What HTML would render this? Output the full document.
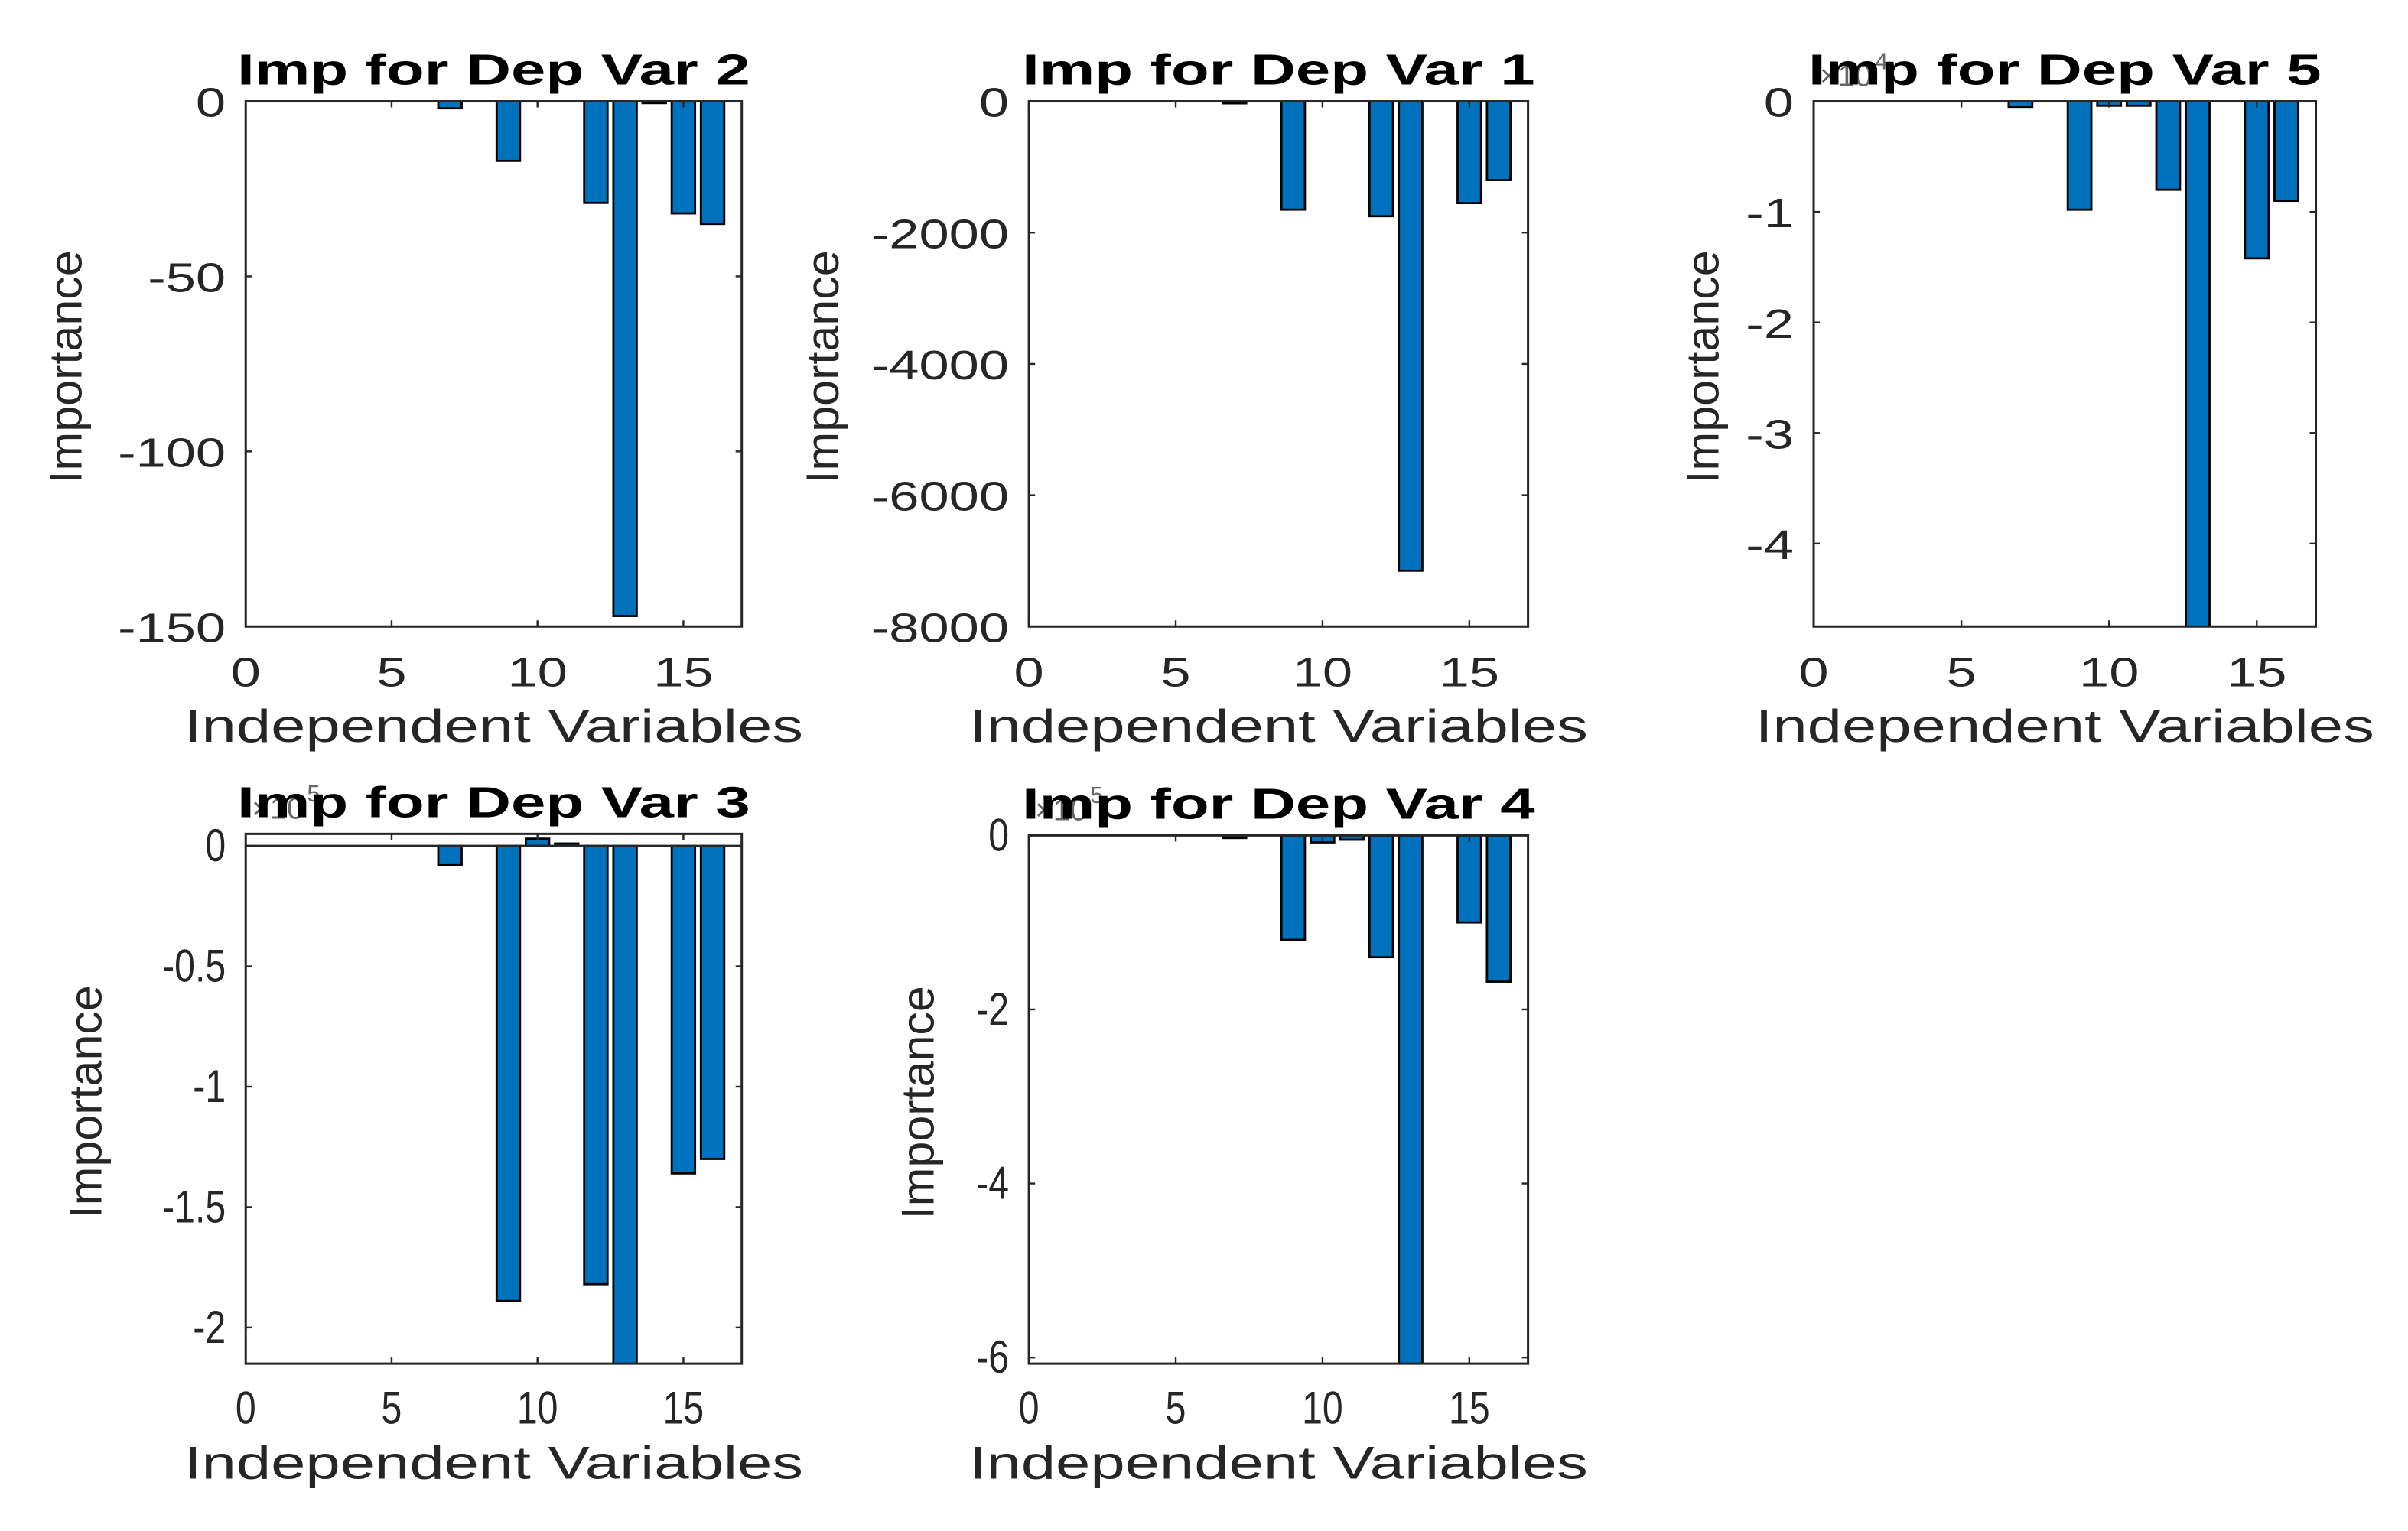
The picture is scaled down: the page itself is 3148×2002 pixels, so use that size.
<!DOCTYPE html>
<html><head><meta charset="utf-8">
<style>
html,body{margin:0;padding:0;background:#fff;}
svg{display:block;}
text{font-family:"Liberation Sans",sans-serif;}
</style></head>
<body>
<svg id="fig" width="3148" height="2002" viewBox="0 0 1568 997" preserveAspectRatio="none" xmlns="http://www.w3.org/2000/svg"></svg>
<script>
// ---- data ----
const xIndices = [7, 9, 10, 11, 12, 13, 14, 15, 16];
const var2Values = [-2, -17, 0, 0, -29, -147, -0.5, -32, -35];
const var1Values = [-30, -1650, 0, 0, -1750, -7150, 0, -1550, -1200];
const var5Values = [-0.05, -0.98, -0.04, -0.04, -0.8, -4.8, 0, -1.42, -0.9];
const var3Values = [-0.08, -1.89, 0.03, 0.01, -1.82, -2.2, 0, -1.36, -1.30];
const var4Values = [-0.03, -1.2, -0.08, -0.05, -1.4, -6.1, 0, -1.0, -1.68];
const xTicks = [0, 5, 10, 15];
const var2Ticks = [0, -50, -100, -150];
const var1Ticks = [0, -2000, -4000, -6000, -8000];
const var5Ticks = [0, -1, -2, -3, -4];
const var3Ticks = [0, -0.5, -1, -1.5, -2];
const var4Ticks = [0, -2, -4, -6];

const NS = "http://www.w3.org/2000/svg";
const fig = document.getElementById('fig');
function mk(tag, attrs, parent){
  const e = document.createElementNS(NS, tag);
  for (const k in attrs) e.setAttribute(k, attrs[k]);
  (parent||fig).appendChild(e);
  return e;
}
function stretch(el, f){
  const w = el.getComputedTextLength();
  el.setAttribute('textLength', w*f);
  el.setAttribute('lengthAdjust', 'spacingAndGlyphs');
}
function fitTo(el, w){
  el.setAttribute('textLength', w);
  el.setAttribute('lengthAdjust', 'spacingAndGlyphs');
}

const panels = [
  {key:'var2', title:'Imp for Dep Var 2', vals:var2Values, ticks:var2Ticks, ymin:-150, ymax:0, box:[160,66,483,408], exp:null, row:0, ylx:42},
  {key:'var1', title:'Imp for Dep Var 1', vals:var1Values, ticks:var1Ticks, ymin:-8000, ymax:0, box:[670,66,995,408], exp:null, row:0, ylx:535},
  {key:'var5', title:'Imp for Dep Var 5', vals:var5Values, ticks:var5Ticks, ymin:-4.75, ymax:0, box:[1181,66,1508,408], exp:'4', row:0, ylx:1108},
  {key:'var3', title:'Imp for Dep Var 3', vals:var3Values, ticks:var3Ticks, ymin:-2.15, ymax:0.05, box:[160,543,483,888], exp:'5', row:1, ylx:55},
  {key:'var4', title:'Imp for Dep Var 4', vals:var4Values, ticks:var4Ticks, ymin:-6.07, ymax:0, box:[670,544,995,888], exp:'5', row:1, ylx:597}
];

panels.forEach(p => {
  const [x0,y0,x1,y1] = p.box;
  const g = mk('g', {});
  
  
  const xs = v => x0 + (v/17)*(x1-x0);
  const ys = v => y0 + (p.ymax - v)/(p.ymax - p.ymin)*(y1-y0);
  const tickFs = p.row === 0 ? 27 : 30;
  const tickStretch = p.row === 0 ? 1.3 : 0.8;
  const clip = mk('clipPath', {id:'clip-'+p.key}, g);
  mk('rect', {x:x0, y:y0, width:x1-x0, height:y1-y0}, clip);
  mk('rect', {x:x0, y:y0, width:x1-x0, height:y1-y0, fill:'#fff'}, g);
  const bg = mk('g', {'clip-path':'url(#clip-'+p.key+')'}, g);
  xIndices.forEach((xi, i) => {
    const v = p.vals[i];
    if (v === 0) return;
    const bx = xs(xi - 0.4), bw = xs(xi + 0.4) - bx;
    const ya = ys(0), yb = ys(v);
    const r = mk('rect', {x:bx, y:Math.min(ya,yb), width:bw, height:Math.max(Math.abs(yb-ya),0.8), fill:'#0072BD', stroke:'#000', 'stroke-width':1.4}, bg);
    
    
  });
  if (p.ymax > 0) {
    const bl = mk('line', {x1:x0, x2:x1, y1:ys(0), y2:ys(0), stroke:'#262626', 'stroke-width':1.5}, g);
    
    
  }
  const bx = mk('rect', {x:x0, y:y0, width:x1-x0, height:y1-y0, fill:'none', stroke:'#262626', 'stroke-width':1.5}, g);
  
  
  xTicks.forEach(t => {
    const x = xs(t);
    mk('line', {x1:x, x2:x, y1:y1, y2:y1-4, stroke:'#262626', 'stroke-width':1.2}, g);
    mk('line', {x1:x, x2:x, y1:y0, y2:y0+4, stroke:'#262626', 'stroke-width':1.2}, g);
    const tl = mk('text', {x:x, y:y1+39, 'font-size':tickFs, fill:'#262626', 'text-anchor':'middle'}, g);
    tl.textContent = t;
    
    
    stretch(tl, tickStretch);
  });
  p.ticks.forEach(t => {
    const y = ys(t);
    mk('line', {x1:x0, x2:x0+4, y1:y, y2:y, stroke:'#262626', 'stroke-width':1.2}, g);
    mk('line', {x1:x1, x2:x1-4, y1:y, y2:y, stroke:'#262626', 'stroke-width':1.2}, g);
    const tl = mk('text', {x:x0-13, y:y+10, 'font-size':tickFs, fill:'#262626', 'text-anchor':'end'}, g);
    tl.textContent = t;
    
    
    stretch(tl, tickStretch);
  });
  if (p.exp) {
    const ex = mk('text', {x:x0+4, y:y0-10, 'font-size':20, fill:'#666'}, g);
    ex.textContent = '×10';
    
    
    const es = mk('text', {x:x0+40, y:y0-21, 'font-size':15, fill:'#666'}, g);
    es.textContent = p.exp;
  }
  const ti = mk('text', {x:(x0+x1)/2, y:y0-11, 'font-size':28, 'font-weight':'bold', fill:'#000', 'text-anchor':'middle'}, g);
  ti.textContent = p.title;
  
  
  fitTo(ti, 334);
  const xl = mk('text', {x:(x0+x1)/2, y:y1+75, 'font-size':30, fill:'#262626', 'text-anchor':'middle'}, g);
  xl.textContent = 'Independent Variables';
  
  
  fitTo(xl, 403);
  const lx = p.ylx + 11;
  const cy = (y0+y1)/2 + 2;
  const yl = mk('text', {x:lx, y:cy, 'font-size':30, fill:'#262626', 'text-anchor':'middle', transform:'rotate(-90 '+lx+' '+cy+')'}, g);
  yl.textContent = 'Importance';
  
  
  fitTo(yl, 152);
});
</script>
</body></html>
